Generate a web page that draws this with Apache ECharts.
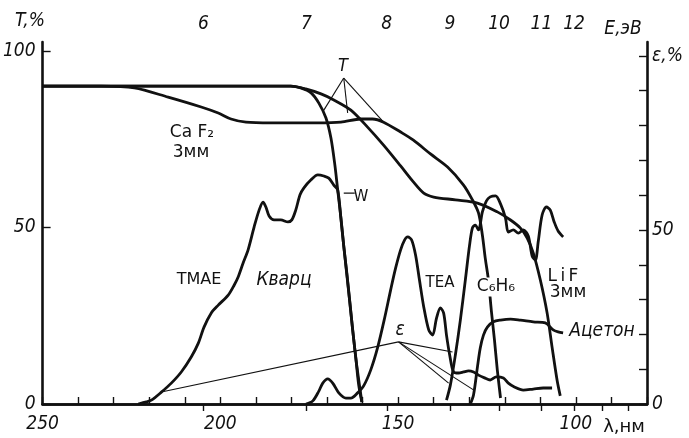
<!DOCTYPE html>
<html>
<head>
<meta charset="utf-8">
<title>T, ε</title>
<script src="https://cdn.jsdelivr.net/npm/echarts@6/dist/echarts.min.js"></script>
<style>
    html, body { margin: 0; padding: 0; background: #fff; }
    #main { width: 689px; height: 438px; }
</style>
</head>
<body>
<div id="main"></div>
<script>
// λ, нм -> T, %
var tQuartz = [[250,90],[180.2,90],[177.4,89.5],[174.5,88.1],[172.3,85.2],[170.3,81],[168.9,75.3],[167.8,67.7],[167,60.6],
    [166.1,52.7],[165.3,44.7],[164.4,36.8],[163.6,28.9],[162.8,21],[161.9,13],[161.1,5.4],[160.2,0.5]];
var tCaF2 = [[250,90],[233.5,90],[224.2,89.5],[214.7,86.9],[205.4,84.1],[200.6,82.4],[197,80.7],[192.8,79.8],[185.8,79.6],
    [172.6,79.6],[166.1,79.8],[160.5,80.7],[157.2,80.7],[154.1,79.8],[149.3,77],[145.7,74.7],[140.9,70.8],[136.1,67.1],
    [131.6,62],[129.1,57.8],[127.4,54.1],[126.3,47.8],[125.5,41.3],[124.6,35.1],[123.8,26.6],[122.9,18.1],[122.1,9.6],[121.2,1.7]];
var tLiF = [[250,90],[180.2,90],[176,89.2],[171.7,87.8],[168.1,86.1],[163.3,83.2],[158.6,78.4],[154.1,73.3],[149.3,67.4],
    [145.9,63.1],[142.8,59.7],[140,58.6],[133.9,57.8],[127.7,56.9],[122.1,54.4],[118.4,52.1],[115.6,49.8],[113.7,47],
    [112,42.8],[110,35.1],[108.1,25.8],[106.7,16.1],[105.3,6.8],[104.4,2.3]];

// λ, нм -> ε, %
var eTMAE = [[223.1,0],[220.8,0.6],[219.4,1.1],[216.6,3.4],[213.8,6],[211,9.2],[208.2,13.5],[206.2,17.5],[204.6,22.1],
    [202.6,26.1],[200.6,28.4],[197.8,31.3],[196.1,34.2],[195,36.5],[193.6,40.5],[192.2,44.3],[190.5,50.9],[189.1,55.7],
    [188,58],[187.2,56.6],[186.3,54],[184.9,52.9],[183,52.9],[181,52.3],[179.9,52.9],[178.8,55.7],[177.6,60.1],[176.5,62.1],
    [174.5,64.4],[172.6,65.8],[170.9,65.5],[169.5,64.9],[168.1,62.9],[167,61.5],[166.1,53.4],[165.3,45.4],[163.6,29.3],
    [161.9,13.2],[160.2,0.6]];
var eTEA = [[175.9,0],[174,0.9],[172.3,3.7],[171.2,6],[169.8,7.2],[168.4,6],[166.7,3.2],[164.7,1.7],[163.3,1.7],[161.4,3.2],
    [159.7,5.2],[157.7,9.8],[155.8,16.1],[153.8,24.7],[152.1,32.8],[150.7,39.1],[149.3,44.3],[148.2,47.1],[147.3,48],
    [146.2,47.1],[145.1,42.8],[144,35.6],[142.8,27.9],[141.4,21.3],[140.3,19.8],[139.2,24.7],[138.1,27.6],[137.2,26.1],
    [136.4,19.8],[135.5,14.1],[134.4,9.2],[133,8.9],[131.6,9.2],[130.2,9.5],[128.8,9.2],[127.4,8.3],[125.7,7.5],[124.1,6.9],
    [122.4,7.8],[120.4,7.5],[119,6],[117.3,4.9],[114.8,4],[112,4.3],[109.2,4.6],[106.7,4.6]];
var eC6H6 = [[136.4,1.1],[135.3,5.5],[133.9,14.1],[132.5,24.1],[131.1,35.6],[129.9,45.7],[129.1,50.6],[128.3,51.4],
    [127.4,50],[126.3,55.2],[125.2,58.3],[124.1,59.5],[122.6,59.8],[121.2,57.5],[119.8,53.4],[119,49.4],[117.6,50],
    [116.2,49.1],[114.8,50],[113.4,48.3],[112.3,42.5],[111.4,41.4],[110.6,46.6],[109.5,54.3],[108.3,56.6],[107.2,55.7],
    [106.1,52.3],[105,49.7],[103.6,48]];
var eAcetone = [[129.7,0],[128.8,2.6],[127.7,10.6],[126.9,16.1],[126,19.8],[124.9,22.1],[123.2,23.6],[121.2,24.1],
    [118.4,24.4],[115.6,24.1],[112,23.6],[108.6,23.3],[106.4,21.3],[105,20.7],[103.6,20.4]];

// верхняя шкала E, эВ (положение в нм)
var eVLabels = ['6', '7', '8', '9', '10', '11', '12', '13', '14'];
var eVPos = [204.8, 175.8, 153.2, 135.4, 121.6, 109.7, 100.5, 92.6, 85.2];

// выноски (λ, T)
var tHub = [165.3, 92.3];
var tEnds = [[170.9, 83.2], [164.2, 82.4], [154.1, 79.8]];
var epsHub = [149.9, 17.6];
var epsEnds = [[216.6, 3.4], [134.7, 14.7], [135.8, 5.9], [128.8, 4.0]];
var wLeader = [[165.3, 59.7], [162.2, 59.7]];

var numFont = "'Liberation Sans Narrow', 'DejaVu Sans Condensed', 'Liberation Sans', sans-serif";
var txtFont = "'DejaVu Sans', sans-serif";

function extend(a, b) {
    for (var k in b) {
        a[k] = b[k];
    }
    return a;
}

function curve(data, yIdx) {
    return {
        type: 'line',
        data: data,
        yAxisIndex: yIdx,
        showSymbol: false,
        smooth: 0.3,
        silent: true,
        lineStyle: { color: '#111', width: 2.8 },
        z: 3
    };
}

function leader(a, b) {
    return {
        type: 'line',
        data: [a, b],
        showSymbol: false,
        silent: true,
        lineStyle: { color: '#111', width: 1.1 },
        z: 2
    };
}

function label(text, x, y, font, bg) {
    return {
        type: 'text',
        x: x,
        y: y,
        z: 100,
        style: {
            text: text,
            font: font,
            fill: '#111',
            align: 'center',
            verticalAlign: 'middle',
            backgroundColor: bg || 'transparent',
            padding: bg ? [1, 0, 1, 0] : 0
        }
    };
}

var series = [
    curve(tQuartz, 0),
    curve(tCaF2, 0),
    curve(tLiF, 0),
    curve(eTMAE, 1),
    curve(eTEA, 1),
    curve(eC6H6, 1),
    curve(eAcetone, 1)
];
tEnds.forEach(function (p) { series.push(leader(tHub, p)); });
epsEnds.forEach(function (p) { series.push(leader(epsHub, p)); });
series.push(leader(wLeader[0], wLeader[1]));

var axisLine = { show: true, lineStyle: { color: '#111', width: 2.6 } };
var tickStyle = { color: '#111', width: 1.4 };
var numLabel = { color: '#111', fontFamily: numFont, fontStyle: 'italic', fontSize: 19 };

var option = {
    animation: false,
    backgroundColor: '#fff',
    grid: { left: 41, right: 42, top: 42, bottom: 34 },
    xAxis: [
        {
            type: 'value',
            position: 'bottom',
            min: 80,
            max: 250,
            inverse: true,
            interval: 10,
            axisLine: axisLine,
            axisTick: { inside: true, length: 7, lineStyle: tickStyle },
            splitLine: { show: false },
            axisLabel: extend({
                margin: 11,
                formatter: function (v) { return (v % 50 === 0 && v > 80) ? v : ''; }
            }, numLabel)
        },
        {
            type: 'value',
            position: 'top',
            min: 80,
            max: 250,
            inverse: true,
            axisLine: axisLine,
            axisTick: { inside: true, length: 7, lineStyle: tickStyle, customValues: eVPos },
            splitLine: { show: false },
            axisLabel: extend({
                margin: 8,
                customValues: eVPos.slice(0, 7),
                formatter: function (v) {
                    var i = eVPos.indexOf(v);
                    return i >= 0 ? eVLabels[i] : '';
                }
            }, numLabel)
        }
    ],
    yAxis: [
        {
            type: 'value',
            position: 'left',
            min: 0,
            max: 102.5,
            interval: 50,
            axisLine: axisLine,
            axisTick: { inside: true, length: 8, lineStyle: tickStyle },
            splitLine: { show: false },
            axisLabel: extend({
                margin: 7,
                showMaxLabel: false,
                formatter: function (v) { return v % 50 === 0 ? v : ''; }
            }, numLabel)
        },
        {
            type: 'value',
            position: 'right',
            min: 0,
            max: 104,
            interval: 10,
            axisLine: axisLine,
            axisTick: { inside: true, length: 8, lineStyle: tickStyle },
            splitLine: { show: false },
            axisLabel: extend({
                margin: 5,
                showMaxLabel: false,
                formatter: function (v) {
                    if (v === 100) return 'ε,%';
                    return v % 50 === 0 ? v : '';
                }
            }, numLabel)
        }
    ],
    graphic: [
        label('T,%', 30, 21, 'italic 19px ' + numFont),
        label('E,эВ', 623, 29, 'italic 19px ' + numFont),
        label('λ,нм', 624, 427, '18px ' + txtFont),
        label('T', 343, 66, 'italic 18px ' + numFont),
        label('Ca F₂', 192, 133, '17px ' + txtFont),
        label('3мм', 191, 153, '17px ' + txtFont),
        label('W', 361, 197, '15px ' + txtFont),
        label('TMAE', 199, 280, '16px ' + txtFont),
        label('Кварц', 284, 280, 'italic 19px ' + numFont),
        label('TEA', 440, 283, '15px ' + txtFont),
        label('C₆H₆', 496, 287, '17px ' + txtFont, '#fff'),
        label('L\u2009i\u2009F', 563, 277, '17px ' + txtFont),
        label('3мм', 568, 293, '17px ' + txtFont),
        label('Ацетон', 602, 331, 'italic 19px ' + numFont),
        label('ε', 400, 330, 'italic 19px ' + numFont)
    ],
    series: series
};

var myChart = echarts.init(document.getElementById('main'));
myChart.setOption(option);
</script>
</body>
</html>
